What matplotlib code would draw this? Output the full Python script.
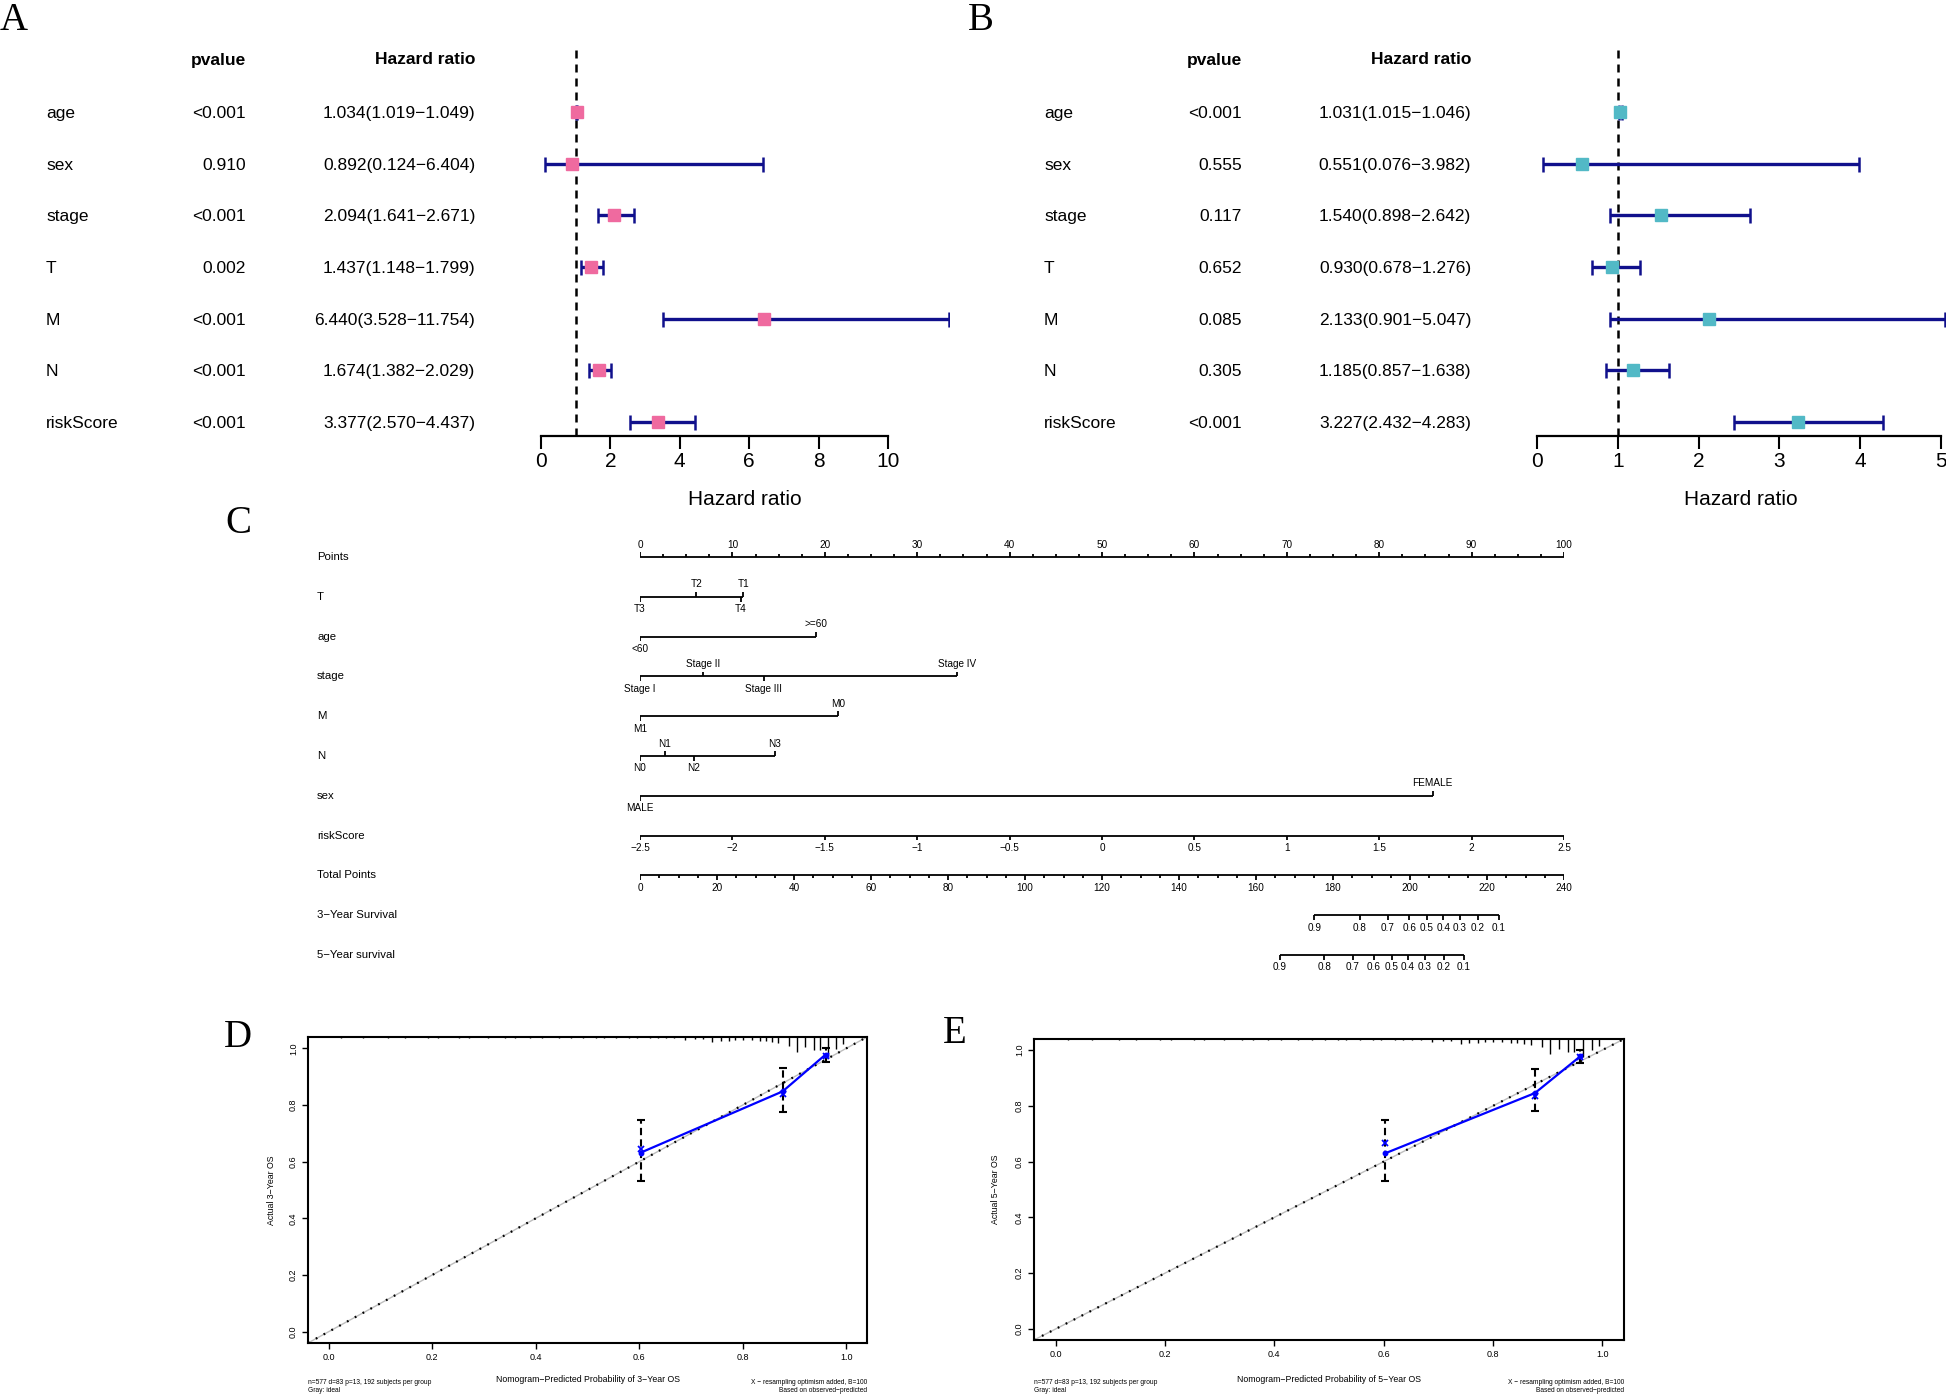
"""Forest plots (A, B), nomogram (C) and calibration curves (D, E) in one figure."""
import matplotlib

matplotlib.use("Agg")
import matplotlib.pyplot as plt  # noqa: E402
import numpy as np  # noqa: E402

plt.rcParams["font.family"] = ["Liberation Sans", "DejaVu Sans"]
W, H = 1946, 1395
SERIF = ["Liberation Serif", "DejaVu Serif"]
MINUS = "\u2212"

# ---- A / B: univariate and multivariate Cox forest data ----
VARS = ["age", "sex", "stage", "T", "M", "N", "riskScore"]
A_PVAL = ["<0.001", "0.910", "<0.001", "0.002", "<0.001", "<0.001", "<0.001"]
A_HR = [1.034, 0.892, 2.094, 1.437, 6.440, 1.674, 3.377]
A_LO = [1.019, 0.124, 1.641, 1.148, 3.528, 1.382, 2.570]
A_HI = [1.049, 6.404, 2.671, 1.799, 11.754, 2.029, 4.437]
A_TICKS = [0, 2, 4, 6, 8, 10]

B_PVAL = ["<0.001", "0.555", "0.117", "0.652", "0.085", "0.305", "<0.001"]
B_HR = [1.031, 0.551, 1.540, 0.930, 2.133, 1.185, 3.227]
B_LO = [1.015, 0.076, 0.898, 0.678, 0.901, 0.857, 2.432]
B_HI = [1.046, 3.982, 2.642, 1.276, 5.047, 1.638, 4.283]
B_TICKS = [0, 1, 2, 3, 4, 5]

# ---- C: nomogram (points per level) ----
T_LEVELS = ["T3", "T2", "T4", "T1"]
T_PTS = [0, 6.1, 10.9, 11.2]
AGE_LEVELS = ["<60", ">=60"]
AGE_PTS = [0, 19.0]
STAGE_LEVELS = ["Stage I", "Stage II", "Stage III", "Stage IV"]
STAGE_PTS = [0, 6.8, 13.4, 34.3]
M_LEVELS = ["M1", "M0"]
M_PTS = [0, 21.4]
N_LEVELS = ["N0", "N1", "N2", "N3"]
N_PTS = [0, 2.7, 5.8, 14.6]
SEX_LEVELS = ["MALE", "FEMALE"]
SEX_PTS = [0, 85.8]
RISK_TICKS = [-2.5, -2, -1.5, -1, -0.5, 0, 0.5, 1, 1.5, 2, 2.5]
TOTAL_TICKS = [0, 20, 40, 60, 80, 100, 120, 140, 160, 180, 200, 220, 240]
SURV_PROBS = [0.9, 0.8, 0.7, 0.6, 0.5, 0.4, 0.3, 0.2, 0.1]
SURV3_TOTAL = [175.1, 187.0, 194.3, 199.8, 204.4, 208.7, 213.0, 217.6, 223.0]
SURV5_TOTAL = [166.2, 177.7, 185.2, 190.6, 195.3, 199.5, 203.9, 208.8, 214.0]

# ---- D / E: calibration ----
CAL_PRED = [0.603, 0.877, 0.960]
D_OBS = [0.632, 0.848, 0.978]
D_CORR = [0.645, 0.838, 0.972]
D_LO = [0.531, 0.775, 0.952]
D_HI = [0.746, 0.932, 1.000]
E_OBS = [0.630, 0.846, 0.978]
E_CORR = [0.666, 0.835, 0.975]
E_LO = [0.531, 0.780, 0.955]
E_HI = [0.748, 0.933, 1.000]
RUG_X = [0.023, 0.067, 0.115, 0.147, 0.191, 0.211, 0.252, 0.272, 0.308, 0.340, 0.360, 0.388,
         0.412, 0.444, 0.468, 0.492, 0.516, 0.532, 0.556, 0.580, 0.596, 0.620, 0.636, 0.652,
         0.668, 0.688, 0.708, 0.724, 0.741, 0.757, 0.773, 0.785, 0.801, 0.817, 0.833, 0.845,
         0.857, 0.869, 0.889, 0.905, 0.921, 0.937, 0.949, 0.965, 0.981, 0.994]
RUG_H = [0.003, 0.003, 0.003, 0.003, 0.003, 0.003, 0.003, 0.003, 0.004, 0.003, 0.003, 0.004,
         0.003, 0.004, 0.004, 0.003, 0.004, 0.004, 0.004, 0.004, 0.005, 0.005, 0.004, 0.005,
         0.005, 0.010, 0.006, 0.007, 0.018, 0.014, 0.014, 0.012, 0.012, 0.012, 0.014, 0.014,
         0.018, 0.021, 0.030, 0.053, 0.035, 0.047, 0.047, 0.065, 0.041, 0.024]

PINK = "#EF6A9F"
CYAN = "#52B9C6"
NAVY = "#10108C"

fig = plt.figure(figsize=(W / 100, H / 100), dpi=100)
txt = fig.add_axes([0, 0, 1, 1])
txt.set_xlim(0, W)
txt.set_ylim(H, 0)
txt.axis("off")


def px_axes(x0, y0, x1, y1):
    return fig.add_axes([x0 / W, 1 - y1 / H, (x1 - x0) / W, (y1 - y0) / H])


# panel letters
for lbl, x, y in [("A", 0, 30), ("B", 968, 30), ("C", 225, 533), ("D", 224, 1047), ("E", 943, 1043)]:
    txt.text(x, y, lbl, family=SERIF, fontsize=28, va="baseline", ha="left")

# ---------------- forest plots ----------------
ROW_Y0, ROW_DY = 112, 51.67
F_TOP, F_BOT = 50, 436


def forest(x0, xend, ticks, pval, hr, lo, hi, color, name_x, p_x, hr_x):
    scale = (xend - x0) / ticks[-1]
    ax = px_axes(x0, F_TOP, x0 + max(hi) * scale, F_BOT)
    rows = np.arange(len(VARS))
    hr, lo, hi = np.array(hr), np.array(lo), np.array(hi)
    ax.axvline(1, color="black", lw=1.8, dashes=(3.2, 2.4), zorder=1)
    ax.errorbar(hr, rows, xerr=[hr - lo, hi - hr], fmt="none", ecolor=NAVY, elinewidth=2.4,
                capsize=5.4, capthick=1.8, zorder=2)
    ax.plot(hr, rows, ls="none", marker="s", ms=8.6, color=color, mec=color, zorder=3)
    ax.set_xlim(0, max(hi))
    ax.set_ylim((F_BOT - ROW_Y0) / ROW_DY, (F_TOP - ROW_Y0) / ROW_DY)
    for s in ["top", "right", "left"]:
        ax.spines[s].set_visible(False)
    ax.spines["bottom"].set_bounds(ticks[0], ticks[-1])
    ax.spines["bottom"].set_linewidth(1.6)
    ax.set_yticks([])
    ax.set_xticks(ticks)
    ax.tick_params(axis="x", direction="out", length=9.4, width=1.5, labelsize=15, pad=2)
    ax.set_xlabel("Hazard ratio", fontsize=15, labelpad=14)
    ax.patch.set_alpha(0)

    txt.text(p_x, 60, "pvalue", ha="right", va="center", fontsize=12.5, fontweight="bold")
    txt.text(hr_x, 60, "Hazard ratio", ha="right", va="center", fontsize=12.5, fontweight="bold")
    for i, v in enumerate(VARS):
        y = ROW_Y0 + i * ROW_DY
        txt.text(name_x, y, v, ha="left", va="center_baseline", fontsize=12.5)
        txt.text(p_x, y, pval[i], ha="right", va="center_baseline", fontsize=12.5)
        txt.text(hr_x, y, f"{hr[i]:.3f}({lo[i]:.3f}{MINUS}{hi[i]:.3f})", ha="right",
                 va="center_baseline", fontsize=12.5)


forest(541, 888, A_TICKS, A_PVAL, A_HR, A_LO, A_HI, PINK, 46, 246, 475)
forest(1537, 1941, B_TICKS, B_PVAL, B_HR, B_LO, B_HI, CYAN, 1044, 1242, 1471)

# ---------------- nomogram ----------------
N_Y0, N_DY = 557, 39.8
nx0, nx1 = 640, 1564
nax = px_axes(nx0, 530, nx1, 980)
nax.set_xlim(0, 100)
nax.set_ylim((980 - N_Y0) / N_DY, (530 - N_Y0) / N_DY)
nax.axis("off")
TICK_BIG, TICK_SMALL, LAB_OFF = 0.12, 0.07, 0.31
LW = 1.3


def scale_row(row, xs, labels, sides, minor=()):
    nax.plot([min(xs), max(xs)], [row, row], color="black", lw=LW, solid_capstyle="butt")
    for x, lab, side in zip(xs, labels, sides):
        s = -1 if side == "up" else 1
        nax.plot([x, x], [row, row + s * TICK_BIG], color="black", lw=LW, solid_capstyle="butt")
        nax.text(x, row + s * LAB_OFF, lab, ha="center", va="center", fontsize=7.2)
    s = -1 if sides[0] == "up" else 1
    for x in minor:
        nax.plot([x, x], [row, row + s * TICK_SMALL], color="black", lw=LW, solid_capstyle="butt")


def alt_sides(n):
    return ["down" if k % 2 == 0 else "up" for k in range(n)]


row_names = ["Points", "T", "age", "stage", "M", "N", "sex", "riskScore", "Total Points",
             f"3{MINUS}Year Survival", f"5{MINUS}Year survival"]
for i, name in enumerate(row_names):
    txt.text(317, N_Y0 + i * N_DY, name, ha="left", va="center", fontsize=8.2)

pts_major = list(range(0, 101, 10))
scale_row(0, pts_major, [str(p) for p in pts_major], ["up"] * len(pts_major),
          minor=[m for m in np.arange(0, 100.1, 2.5) if m % 10])
for row, (levels, pts) in enumerate([(T_LEVELS, T_PTS), (AGE_LEVELS, AGE_PTS),
                                     (STAGE_LEVELS, STAGE_PTS), (M_LEVELS, M_PTS),
                                     (N_LEVELS, N_PTS), (SEX_LEVELS, SEX_PTS)], start=1):
    scale_row(row, pts, levels, alt_sides(len(pts)))

risk_x = [(r + 2.5) * 20 for r in RISK_TICKS]
risk_lab = [f"{r:g}".replace("-", MINUS) for r in RISK_TICKS]
scale_row(7, risk_x, risk_lab, ["down"] * len(risk_x))

tot_x = [t * 100 / 240 for t in TOTAL_TICKS]
scale_row(8, tot_x, [str(t) for t in TOTAL_TICKS], ["down"] * len(tot_x),
          minor=[m * 100 / 240 for m in np.arange(0, 241, 5) if m % 20])
for row, tot in [(9, SURV3_TOTAL), (10, SURV5_TOTAL)]:
    scale_row(row, [t * 100 / 240 for t in tot], [f"{p:.1f}" for p in SURV_PROBS],
              ["down"] * len(tot))


# ---------------- calibration curves ----------------
def calib(box, obs, corr, lo, hi, year, ylab_x, xlab_y):
    x0, y0, x1, y1 = box
    ax = px_axes(x0, y0, x1, y1)
    ax.set_xlim(-0.04, 1.04)
    ax.set_ylim(-0.04, 1.04)
    ax.plot([-0.04, 1.04], [-0.04, 1.04], color="#BDBDBD", lw=1.0, zorder=1)
    ax.plot([-0.04, 1.04], [-0.04, 1.04], color="black", lw=1.6, ls=(0, (0.8, 3.2)), zorder=2)
    ax.vlines(RUG_X, 1.04 - np.array(RUG_H), 1.04, color="black", lw=1.0)
    obs, lo, hi = np.array(obs), np.array(lo), np.array(hi)
    eb = ax.errorbar(CAL_PRED, obs, yerr=[obs - lo, hi - obs], fmt="none", ecolor="black",
                     elinewidth=1.5, capsize=3, capthick=1.5, zorder=3)
    eb[2][0].set_linestyle((0, (3.5, 2)))
    ax.plot(CAL_PRED, obs, color="blue", lw=1.6, marker="o", ms=3.2, zorder=4)
    ax.plot(CAL_PRED, corr, ls="none", color="blue", marker="x", ms=4.5, mew=1.3, zorder=5)
    ticks = [0.0, 0.2, 0.4, 0.6, 0.8, 1.0]
    ax.set_xticks(ticks)
    ax.set_yticks(ticks)
    ax.set_xticklabels([f"{t:.1f}" for t in ticks])
    ax.set_yticklabels([f"{t:.1f}" for t in ticks], rotation=90, va="center")
    ax.tick_params(direction="out", length=4.3, width=1.0, labelsize=6.5, pad=3)
    for s in ax.spines.values():
        s.set_linewidth(1.5)
    xc, yc = (x0 + x1) / 2, (y0 + y1) / 2
    txt.text(xc, xlab_y, f"Nomogram{MINUS}Predicted Probability of {year}{MINUS}Year OS",
             ha="center", va="center", fontsize=6.3)
    txt.text(ylab_x, yc, f"Actual {year}{MINUS}Year OS", ha="center", va="center",
             rotation=90, fontsize=6.3)
    txt.text(x0, 1383, "n=577 d=83 p=13, 192 subjects per group", ha="left", va="center",
             fontsize=4.8)
    txt.text(x0, 1391, "Gray: ideal", ha="left", va="center", fontsize=4.8)
    txt.text(x1, 1383, f"X {MINUS} resampling optimism added, B=100", ha="right", va="center",
             fontsize=4.8)
    txt.text(x1, 1391, f"Based on observed{MINUS}predicted", ha="right", va="center", fontsize=4.8)


calib((308, 1037, 867, 1343), D_OBS, D_CORR, D_LO, D_HI, 3, 271, 1380)
calib((1034, 1039, 1624, 1340), E_OBS, E_CORR, E_LO, E_HI, 5, 995, 1379)

fig.savefig("out.png", dpi=100)
